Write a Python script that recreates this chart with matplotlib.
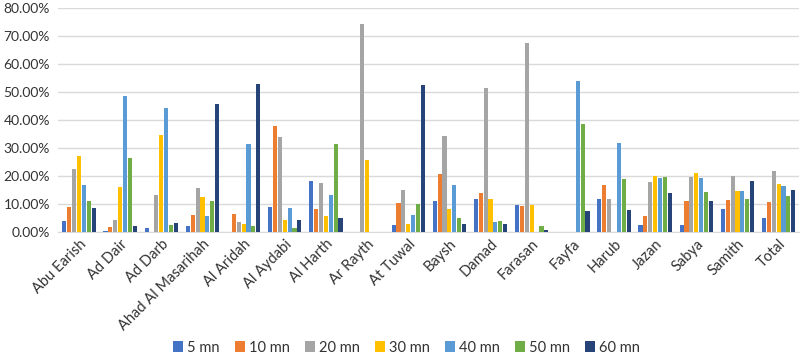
import numpy as np
import matplotlib
matplotlib.use("Agg")
import matplotlib.pyplot as plt
from matplotlib.ticker import PercentFormatter

plt.rcParams['font.family'] = ['Lato', 'DejaVu Sans']

regions = ["Abu Earish", "Ad Dair", "Ad Darb", "Ahad Al Masarihah", "Al Aridah",
           "Al Aydabi", "Al Harth", "Ar Rayth", "At Tuwal", "Baysh", "Damad",
           "Farasan", "Fayfa", "Harub", "Jazan", "Sabya", "Samith", "Total"]

# values in %
mn5  = [3.9, 0.4, 1.4, 2.1, 0.0, 9.0, 18.3, 0.0, 2.5, 11.1, 11.9, 9.8, 0.0, 11.8, 2.7, 2.5, 8.1, 4.9]
mn10 = [9.0, 1.7, 0.0, 6.0, 6.4, 38.0, 8.1, 0.0, 10.4, 20.6, 13.9, 9.3, 0.0, 16.8, 5.7, 11.2, 11.5, 10.7]
mn20 = [22.5, 4.3, 13.1, 15.7, 3.6, 33.9, 17.5, 74.4, 14.9, 34.4, 51.3, 67.6, 0.0, 11.8, 17.9, 19.8, 20.0, 21.7]
mn30 = [27.1, 16.0, 34.6, 12.7, 2.9, 4.3, 5.7, 25.6, 2.9, 8.2, 11.8, 9.5, 0.0, 0.0, 19.9, 21.0, 14.5, 17.1]
mn40 = [16.8, 48.6, 44.3, 5.6, 31.4, 8.6, 13.1, 0.0, 6.0, 16.8, 3.6, 0.0, 53.8, 31.9, 19.3, 19.3, 14.5, 16.5]
mn50 = [11.2, 26.4, 2.5, 11.1, 2.1, 1.3, 31.3, 0.0, 10.0, 4.9, 3.8, 2.1, 38.5, 18.8, 19.5, 14.2, 11.8, 12.9]
mn60 = [8.5, 2.1, 3.2, 45.7, 52.9, 4.2, 5.0, 0.0, 52.5, 3.0, 2.9, 0.7, 7.5, 7.9, 13.8, 11.0, 18.3, 15.0]

series = [mn5, mn10, mn20, mn30, mn40, mn50, mn60]
labels = ["5 mn", "10 mn", "20 mn", "30 mn", "40 mn", "50 mn", "60 mn"]
colors = ["#4472C4", "#ED7D31", "#A5A5A5", "#FFC000", "#5B9BD5", "#70AD47", "#264478"]

fig = plt.figure(figsize=(8, 3.56), dpi=100)
ax = fig.add_axes([0.073, 0.348, 0.926, 0.6295])

x = np.arange(len(regions))
pitch = 0.1185
for i, (vals, lab, col) in enumerate(zip(series, labels, colors)):
    ax.bar(x + (i - 3) * pitch, vals, width=0.1, color=col, label=lab, zorder=3)

ax.set_xlim(-0.5, len(regions) - 0.5)
ax.set_ylim(0, 80)
ax.set_yticks(np.arange(0, 81, 10))
ax.yaxis.set_major_formatter(PercentFormatter(decimals=2))
ax.grid(axis="y", color="#D9D9D9", linewidth=1, zorder=0)
for s in ["top", "right", "left"]:
    ax.spines[s].set_visible(False)
ax.spines["bottom"].set_color("#D9D9D9")
ax.tick_params(axis="both", length=0, labelsize=10.5, labelcolor="#333333")
ax.tick_params(axis="y", labelsize=10, pad=6)
ax.set_xticks(x)
ax.set_xticklabels(regions, rotation=45, ha="right", rotation_mode="anchor")

ax.legend(loc="center", bbox_to_anchor=(0.47, -0.515), ncol=7, frameon=False,
          fontsize=10.5, handlelength=0.7, handleheight=0.7, handletextpad=0.3,
          columnspacing=1.0, labelcolor="#333333", borderpad=0.1)

fig.savefig("out.png", dpi=100)
